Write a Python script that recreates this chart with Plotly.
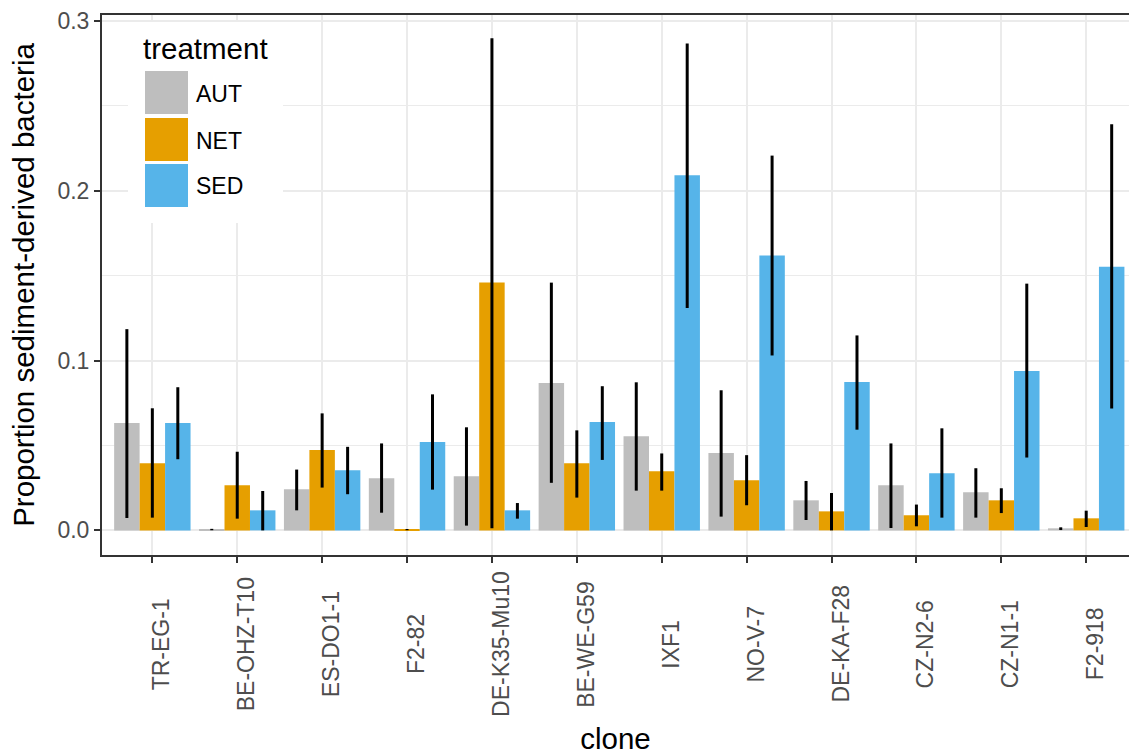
import plotly.graph_objects as go

clones = ["TR-EG-1", "BE-OHZ-T10", "ES-DO1-1", "F2-82", "DE-K35-Mu10", "BE-WE-G59",
          "IXF1", "NO-V-7", "DE-KA-F28", "CZ-N2-6", "CZ-N1-1", "F2-918"]
treatments = ["AUT", "NET", "SED"]

aut_mean = [0.0632, 0.0004, 0.0242, 0.0307, 0.0319, 0.0868, 0.0555, 0.0455, 0.0177, 0.0266, 0.0224, 0.0012]
aut_lo = [0.0073, 0.0001, 0.0118, 0.0104, 0.0028, 0.0280, 0.0234, 0.0081, 0.0061, 0.0014, 0.0075, 0.0002]
aut_hi = [0.1185, 0.0009, 0.0358, 0.0512, 0.0607, 0.1459, 0.0872, 0.0825, 0.0291, 0.0512, 0.0366, 0.0018]

net_mean = [0.0396, 0.0266, 0.0473, 0.0004, 0.1459, 0.0396, 0.0348, 0.0295, 0.0112, 0.0089, 0.0177, 0.0071]
net_lo = [0.0075, 0.0069, 0.0252, 0.0001, 0.0012, 0.0193, 0.0234, 0.0148, 0.0000, 0.0024, 0.0102, 0.0020]
net_hi = [0.0719, 0.0463, 0.0689, 0.0008, 0.2898, 0.0589, 0.0453, 0.0443, 0.0220, 0.0152, 0.0248, 0.0116]

sed_mean = [0.0632, 0.0118, 0.0354, 0.0520, 0.0118, 0.0638, 0.2091, 0.1618, 0.0874, 0.0337, 0.0939, 0.1553]
sed_lo = [0.0419, 0.0000, 0.0213, 0.0240, 0.0069, 0.0415, 0.1309, 0.1030, 0.0593, 0.0075, 0.0429, 0.0717]
sed_hi = [0.0843, 0.0232, 0.0492, 0.0801, 0.0161, 0.0849, 0.2867, 0.2207, 0.1148, 0.0601, 0.1453, 0.2392]

colors = {"AUT": "#BEBEBE", "NET": "#E69F00", "SED": "#56B4E9"}
series = {"AUT": (aut_mean, aut_lo, aut_hi),
          "NET": (net_mean, net_lo, net_hi),
          "SED": (sed_mean, sed_lo, sed_hi)}

y_tickvals = [0.0, 0.1, 0.2, 0.3]
y_ticktext = ["0.0", "0.1", "0.2", "0.3"]
y_minor = [0.05, 0.15, 0.25]

W, H = 1129, 755
ML, MR, MT, MB = 102, 0, 15, 200
PW, PH = W - ML - MR, H - MT - MB


def px_x(px):
    return (px - ML) / PW


def px_y(py):
    return (H - MB - py) / PH


FONT = "Liberation Sans, Arial, Helvetica, sans-serif"
TICK_SIZE = 23
TITLE_SIZE = 29.5

fig = go.Figure()
for t in treatments:
    m, lo, hi = series[t]
    fig.add_trace(go.Bar(
        x=clones, y=m, name=t, marker=dict(color=colors[t], line=dict(width=0)),
        error_y=dict(type="data", symmetric=False,
                     array=[h - v for h, v in zip(hi, m)],
                     arrayminus=[v - l for v, l in zip(m, lo)],
                     color="black", thickness=3, width=0),
        showlegend=False,
    ))

# x tick labels (centred, rotated) as annotations
annotations = []
for c in clones:
    annotations.append(dict(x=c, xref="x", y=px_y(644), yref="paper", text=c,
                            textangle=-90, showarrow=False, xanchor="center",
                            yanchor="middle", xshift=9,
                            font=dict(family=FONT, size=TICK_SIZE, color="#4D4D4D")))

# legend drawn inside the panel
shapes = [dict(type="rect", xref="paper", yref="paper",
               x0=px_x(128), x1=px_x(283), y0=px_y(223), y1=px_y(22),
               fillcolor="white", line=dict(width=0), layer="above")]
key_tops = [71, 118, 164]
for t, top in zip(treatments, key_tops):
    shapes.append(dict(type="rect", xref="paper", yref="paper",
                       x0=px_x(145), x1=px_x(188), y0=px_y(top + 43), y1=px_y(top),
                       fillcolor=colors[t], line=dict(width=0), layer="above"))
    annotations.append(dict(x=px_x(194), y=px_y(top + 22.5), xref="paper", yref="paper",
                            text=t, showarrow=False, xanchor="left", yanchor="middle",
                            font=dict(family=FONT, size=TICK_SIZE, color="black")))
annotations.append(dict(x=px_x(141), y=px_y(48.5), xref="paper", yref="paper",
                        text="treatment", showarrow=False, xanchor="left", yanchor="middle",
                        font=dict(family=FONT, size=TITLE_SIZE, color="black")))

fig.update_layout(
    width=W, height=H,
    margin=dict(l=ML, r=MR, t=MT, b=MB, autoexpand=False),
    paper_bgcolor="white", plot_bgcolor="white",
    barmode="group", bargap=0.1, bargroupgap=0,
    font=dict(family=FONT, color="black"),
    shapes=shapes, annotations=annotations,
    showlegend=False,
)
fig.update_xaxes(
    type="category", range=[-0.593, 11.504],
    showticklabels=False, ticks="outside", ticklen=6, tickwidth=2, tickcolor="#333333",
    showgrid=True, gridcolor="#EBEBEB", gridwidth=2,
    showline=True, linecolor="#333333", linewidth=2, mirror=True,
    zeroline=False,
    title=dict(text="clone", font=dict(family=FONT, size=TITLE_SIZE, color="black"), standoff=168),
)
fig.update_yaxes(
    range=[-0.0145, 0.3035], tickvals=y_tickvals, ticktext=y_ticktext,
    ticks="outside", ticklen=6, tickwidth=2, tickcolor="#333333",
    tickfont=dict(family=FONT, size=TICK_SIZE, color="#4D4D4D"),
    showgrid=True, gridcolor="#EBEBEB", gridwidth=2,
    minor=dict(tickvals=y_minor, showgrid=True, gridcolor="#EBEBEB", gridwidth=1, ticks=""),
    showline=True, linecolor="#333333", linewidth=2, mirror=False,
    zeroline=False,
    title=dict(text="Proportion sediment-derived bacteria",
               font=dict(family=FONT, size=TITLE_SIZE, color="black"), standoff=14),
)

fig.write_html("out.html",
               config={"displayModeBar": False},
               post_script="document.body.style.margin='0px';"
                           "document.body.style.overflow='hidden';")
